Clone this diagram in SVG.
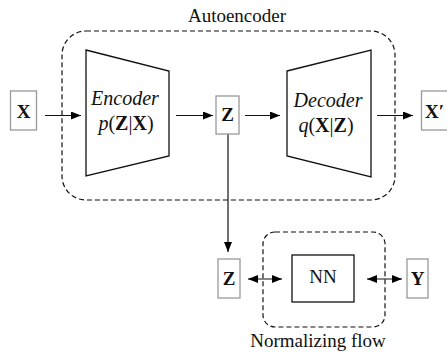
<svg xmlns="http://www.w3.org/2000/svg" width="447" height="355" viewBox="0 0 447 355" font-family="'Liberation Serif', 'Times New Roman', serif">
<defs>
<marker id="ah" viewBox="0 0 10 8" refX="10" refY="4" markerWidth="10" markerHeight="8" markerUnits="userSpaceOnUse" orient="auto-start-reverse">
<path d="M0,0 L10,4 L0,8 z" fill="#000"/>
</marker>
<style>
text{font-family:'Liberation Serif','Times New Roman',serif;font-size:19px;fill:#111;}
.lab{font-size:20px;}
.b{font-weight:bold;}
.i{font-style:italic;}
.box{fill:#fff;stroke:#999;stroke-width:1.3;}
.blk{fill:#fff;stroke:#111;stroke-width:1.3;}
.dash{fill:none;stroke:#111;stroke-width:1.2;stroke-dasharray:5,3;}
.ar{stroke:#111;stroke-width:1.2;fill:none;marker-end:url(#ah);}
.bi{stroke:#111;stroke-width:1.2;fill:none;marker-end:url(#ah);marker-start:url(#ah);}
</style>
</defs>
<rect width="447" height="355" fill="#fff"/>
<g id="autoencoder">
<rect class="dash" x="62" y="31" width="333" height="169" rx="24" ry="24"/>
<text x="237" y="22" text-anchor="middle">Autoencoder</text>
</g>
<g id="normalizing-flow">
<rect class="dash" x="263" y="232" width="122" height="95" rx="12" ry="12"/>
<text x="318" y="347" text-anchor="middle">Normalizing flow</text>
</g>
<g id="connectors">
<line class="ar" x1="45" y1="115.5" x2="81" y2="115.5"/>
<line class="ar" x1="176" y1="115.5" x2="213" y2="115.5"/>
<line class="ar" x1="245" y1="115.5" x2="280" y2="115.5"/>
<line class="ar" x1="377" y1="115.5" x2="413" y2="115.5"/>
<line class="ar" x1="228" y1="134" x2="228" y2="252"/>
<line class="bi" x1="248" y1="279" x2="282" y2="279"/>
<line class="bi" x1="367" y1="279" x2="402" y2="279"/>
</g>
<g id="X">
<rect class="box" x="10.5" y="91" width="26" height="39"/>
<text class="b" x="23.5" y="118" text-anchor="middle">X</text>
</g>
<g id="encoder">
<polygon class="blk" points="86,50 169,71 169,156 86,176"/>
<text class="lab i" x="125" y="105" text-anchor="middle">Encoder</text>
<text class="lab" x="126" y="130" text-anchor="middle"><tspan class="i">p</tspan>(<tspan class="b">Z</tspan>|<tspan class="b">X</tspan>)</text>
</g>
<g id="Z">
<rect class="box" x="216" y="96" width="23" height="38"/>
<text class="b" x="227.5" y="121" text-anchor="middle">Z</text>
</g>
<g id="decoder">
<polygon class="blk" points="287,71 371,50 371,177 287,156"/>
<text class="lab i" x="328" y="107" text-anchor="middle">Decoder</text>
<text class="lab" x="326" y="132" text-anchor="middle"><tspan class="i">q</tspan>(<tspan class="b">X</tspan>|<tspan class="b">Z</tspan>)</text>
</g>
<g id="Xprime">
<rect class="box" x="421.5" y="91" width="40" height="39"/>
<text class="b" x="425" y="118">X′</text>
</g>
<g id="Z2">
<rect class="box" x="218" y="259" width="22" height="39"/>
<text class="b" x="229" y="285" text-anchor="middle">Z</text>
</g>
<g id="NN">
<rect class="blk" x="292" y="255" width="62" height="47"/>
<text x="323" y="283" text-anchor="middle">NN</text>
</g>
<g id="Y">
<rect class="box" x="407" y="259" width="21" height="39"/>
<text class="b" x="417.5" y="285" text-anchor="middle">Y</text>
</g>
</svg>
